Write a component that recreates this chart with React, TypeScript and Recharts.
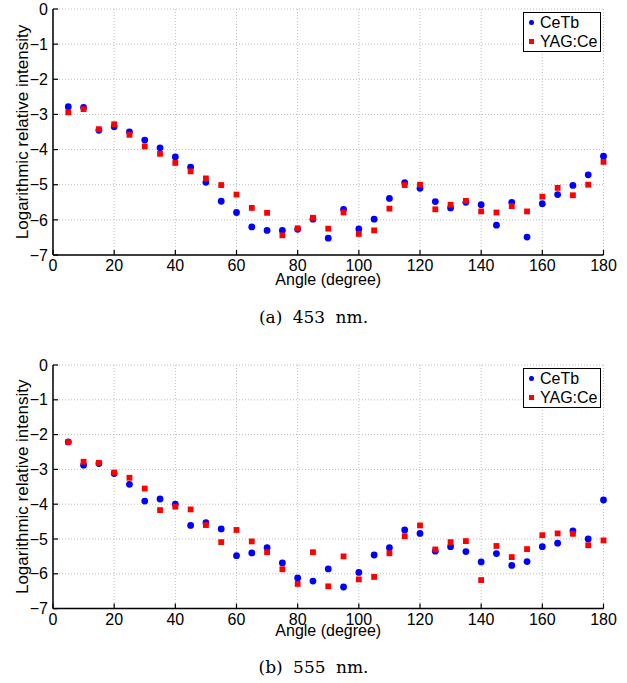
import React from 'react';
import { ScatterChart, Scatter, XAxis, YAxis, CartesianGrid, Legend } from 'recharts';

const angles = [
  5, 10, 15, 20, 25, 30, 35, 40, 45, 50, 55, 60, 65, 70, 75, 80, 85, 90,
  95, 100, 105, 110, 115, 120, 125, 130, 135, 140, 145, 150, 155, 160, 165, 170, 175, 180,
];

// (a) 453 nm
const cetb453 = [
  -2.78, -2.8, -3.45, -3.35, -3.5, -3.73, -3.95, -4.21, -4.5, -4.93, -5.47, -5.79, -6.2, -6.3, -6.3, -6.27, -5.98, -6.52,
  -5.7, -6.26, -5.98, -5.39, -4.94, -5.1, -5.48, -5.66, -5.5, -5.57, -6.15, -5.5, -6.49, -5.54, -5.28, -5.02, -4.72, -4.19,
];
const yag453 = [
  -2.94, -2.85, -3.42, -3.28, -3.58, -3.91, -4.12, -4.38, -4.62, -4.82, -5.01, -5.28, -5.66, -5.8, -6.44, -6.24, -5.94, -6.25,
  -5.79, -6.4, -6.3, -5.68, -5.01, -5.0, -5.7, -5.57, -5.46, -5.76, -5.79, -5.61, -5.76, -5.34, -5.09, -5.3, -5.0, -4.35,
];

// (b) 555 nm
const cetb555 = [
  -2.21, -2.88, -2.83, -3.12, -3.43, -3.91, -3.85, -4.0, -4.61, -4.53, -4.71, -5.48, -5.4, -5.25, -5.69, -6.12, -6.21, -5.86,
  -6.38, -5.96, -5.46, -5.25, -4.74, -4.84, -5.35, -5.22, -5.36, -5.66, -5.42, -5.76, -5.65, -5.22, -5.12, -4.77, -5.0, -3.88,
];
const yag555 = [
  -2.21, -2.78, -2.81, -3.09, -3.24, -3.55, -4.17, -4.07, -4.15, -4.6, -5.09, -4.74, -5.07, -5.38, -5.87, -6.29, -5.38, -6.36,
  -5.5, -6.16, -6.09, -5.41, -4.92, -4.61, -5.3, -5.09, -5.06, -6.18, -5.2, -5.52, -5.29, -4.89, -4.84, -4.85, -5.18, -5.04,
];

const xTicks = [0, 20, 40, 60, 80, 100, 120, 140, 160, 180];
const yTicks = [-7, -6, -5, -4, -3, -2, -1, 0];

const FONT = '"Liberation Sans", Arial, Helvetica, sans-serif';
const SERIF = '"DejaVu Serif", "Liberation Serif", serif';

const toPoints = (vals: number[]) => angles.map((a, i) => ({ x: a, y: vals[i] }));
const fmtY = (v: number) => (v < 0 ? '\u2212' + Math.abs(v) : String(v));

const axisLine = { stroke: '#000', strokeWidth: 1.5 };
const TICK = 5; // inward tick length
const XM = 5; // gap axis -> x tick text
const YM = 5; // gap axis -> y tick text

// matlab-style ticks: short line pointing into the plot + label outside
const BottomTick = (p: any) => (
  <g>
    <line x1={p.x} x2={p.x} y1={p.y - XM} y2={p.y - XM - TICK} stroke="#000" strokeWidth={1.2} />
    <text x={p.x} y={p.y} dy="0.71em" textAnchor="middle" fill="#000" fontSize={16} fontFamily={FONT}>
      {p.payload.value}
    </text>
  </g>
);
const TopTick = (p: any) => (
  <line x1={p.x} x2={p.x} y1={p.y} y2={p.y + TICK} stroke="#000" strokeWidth={1.2} />
);
const LeftTick = (p: any) => (
  <g>
    <line x1={p.x + YM} x2={p.x + YM + TICK} y1={p.y} y2={p.y} stroke="#000" strokeWidth={1.2} />
    <text x={p.x} y={p.y} dy="0.355em" textAnchor="end" fill="#000" fontSize={16} fontFamily={FONT}>
      {fmtY(p.payload.value)}
    </text>
  </g>
);
const RightTick = (p: any) => (
  <line x1={p.x} x2={p.x - TICK} y1={p.y} y2={p.y} stroke="#000" strokeWidth={1.2} />
);

const BlueDot = (p: any) => <circle cx={p.cx} cy={p.cy} r={3.4} fill="#0000ff" />;
const RedSquare = (p: any) => (
  <rect x={p.cx - 2.9} y={p.cy - 2.9} width={5.8} height={5.8} fill="#ff0000" />
);

function LegendBox() {
  const row = { display: 'flex', alignItems: 'center', height: 19 } as const;
  return (
    <div
      style={{
        width: 78,
        height: 40,
        boxSizing: 'border-box',
        border: '1.5px solid #000',
        background: '#fff',
        fontFamily: FONT,
        fontSize: 16,
        lineHeight: '19px',
        color: '#000',
        whiteSpace: 'nowrap',
      }}
    >
      <div style={row}>
        <span style={{ width: 4.5, height: 4.5, borderRadius: '50%', background: '#0000ff', marginLeft: 5, marginRight: 6.5 }} />
        CeTb
      </div>
      <div style={row}>
        <span style={{ width: 4.5, height: 4.5, background: '#ff0000', marginLeft: 5, marginRight: 6.5 }} />
        YAG:Ce
      </div>
    </div>
  );
}

interface PanelProps {
  cetb: number[];
  yag: number[];
  caption: string;
  top: number;
  height: number;
  plotH: number;
  labelOffset: number;
  captionTop: number;
}

function Panel({ cetb, yag, caption, top, height, plotH, labelOffset, captionTop }: PanelProps) {
  const marginTop = 9;
  const xAxisH = 40;
  return (
    <div style={{ position: 'absolute', left: 0, top, width: 627, height }}>
      <ScatterChart
        width={627}
        height={height}
        margin={{ top: marginTop, right: 23.5, left: 8, bottom: height - marginTop - plotH - xAxisH }}
      >
        <CartesianGrid stroke="#bdbdbd" strokeDasharray="1 2" />
        <XAxis
          type="number"
          dataKey="x"
          domain={[0, 180]}
          ticks={xTicks}
          interval={0}
          height={xAxisH}
          tickSize={0}
          tickMargin={XM}
          axisLine={axisLine}
          tickLine={false}
          tick={BottomTick}
          label={{
            value: 'Angle (degree)',
            position: 'insideBottom',
            offset: labelOffset,
            style: { fill: '#000', fontSize: 16, fontFamily: FONT },
          }}
        />
        <XAxis
          xAxisId="t"
          orientation="top"
          type="number"
          domain={[0, 180]}
          ticks={xTicks}
          interval={0}
          height={0}
          tickSize={0}
          tickMargin={0}
          axisLine={axisLine}
          tickLine={false}
          tick={TopTick}
        />
        <YAxis
          type="number"
          dataKey="y"
          domain={[-7, 0]}
          ticks={yTicks}
          interval={0}
          width={45}
          tickSize={0}
          tickMargin={YM}
          axisLine={axisLine}
          tickLine={false}
          tick={LeftTick}
          label={{
            value: 'Logarithmic relative intensity',
            angle: -90,
            position: 'insideLeft',
            offset: 14,
            style: { textAnchor: 'middle', fill: '#000', fontSize: 17, fontFamily: FONT },
          }}
        />
        <YAxis
          yAxisId="r"
          orientation="right"
          type="number"
          domain={[-7, 0]}
          ticks={yTicks}
          interval={0}
          width={0}
          tickSize={0}
          tickMargin={0}
          axisLine={axisLine}
          tickLine={false}
          tick={RightTick}
        />
        <Scatter name="CeTb" data={toPoints(cetb)} shape={BlueDot} isAnimationActive={false} />
        <Scatter name="YAG:Ce" data={toPoints(yag)} shape={RedSquare} isAnimationActive={false} />
        <Legend
          layout="horizontal"
          align="center"
          verticalAlign="middle"
          content={() => <LegendBox />}
          wrapperStyle={{ top: 12, left: 523, width: 78, height: 40 }}
        />
      </ScatterChart>
      <div
        style={{
          position: 'absolute',
          left: 0,
          top: captionTop,
          width: 627,
          textAlign: 'center',
          fontFamily: SERIF,
          fontSize: 17,
          lineHeight: '20px',
          wordSpacing: 5,
          color: '#000',
        }}
      >
        {caption}
      </div>
    </div>
  );
}

export default function App() {
  return (
    <div style={{ position: 'absolute', left: 0, top: 0, width: 627, height: 683, background: '#fff' }}>
      <Panel cetb={cetb453} yag={yag453} caption="(a) 453 nm." top={0} height={340} plotH={246} labelOffset={10} captionTop={307} />
      <Panel cetb={cetb555} yag={yag555} caption="(b) 555 nm." top={356} height={327} plotH={243.6} labelOffset={12.7} captionTop={301} />
    </div>
  );
}
